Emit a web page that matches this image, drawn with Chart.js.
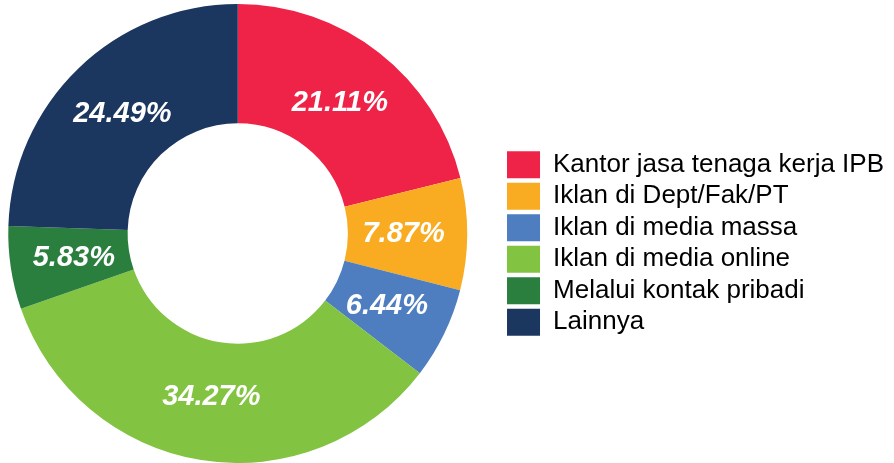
<!DOCTYPE html>
<html>
<head>
<meta charset="utf-8">
<script src="https://cdn.jsdelivr.net/npm/chart.js@4"></script>
<style>
  html, body { margin: 0; padding: 0; background: #fff; overflow: hidden; }
  /* canvas is a bit wider than the window and pulled left so the ring sits where it should */
  #chart { display: block; margin-left: -27px; }
</style>
</head>
<body>
<canvas id="chart" width="921" height="463"></canvas>
<script>
// Data
const categories = ['Kantor jasa tenaga kerja IPB', 'Iklan di Dept/Fak/PT', 'Iklan di media massa', 'Iklan di media online', 'Melalui kontak pribadi', 'Lainnya'];
const values = [21.11, 7.87, 6.44, 34.27, 5.83, 24.49];
const colors = ['#EE2347', '#F9AC21', '#4E7DC0', '#82C341', '#2A7F3F', '#1B365F'];

// Percent labels inside each slice
const sliceLabels = {
    id: 'sliceLabels',
    afterDatasetsDraw(chart) {
        const ctx = chart.ctx;
        const meta = chart.getDatasetMeta(0);
        ctx.save();
        ctx.font = 'italic bold 29px "Liberation Sans", Arial, sans-serif';
        ctx.fillStyle = '#ffffff';
        ctx.textAlign = 'center';
        ctx.textBaseline = 'middle';
        meta.data.forEach((arc, i) => {
            // a little inside the middle of the ring
            const mid = (arc.startAngle + arc.endAngle) / 2;
            const r = (arc.innerRadius + arc.outerRadius) / 2 - 4;
            const x = arc.x + Math.cos(mid) * r;
            const y = arc.y + Math.sin(mid) * r;
            ctx.fillText(values[i].toFixed(2) + '%', x, y);
        });
        ctx.restore();
    }
};

const ctx = document.getElementById('chart').getContext('2d');
new Chart(ctx, {
    type: 'doughnut',
    data: {
        labels: categories,
        datasets: [{
            data: values,
            backgroundColor: colors,
            borderWidth: 0
        }]
    },
    options: {
        responsive: false,
        animation: false,
        cutout: '48%',
        layout: {
            padding: { left: 0, top: 4, right: 0, bottom: 0 }
        },
        plugins: {
            tooltip: { enabled: false },
            legend: {
                position: 'right',
                title: {
                    display: true,
                    text: '',
                    font: { size: 10, lineHeight: 1 },
                    padding: 5
                },
                labels: {
                    boxWidth: 33,
                    boxHeight: 27,
                    padding: 4.5,
                    color: '#000000',
                    font: { size: 26, family: '"Liberation Sans", Arial, sans-serif' }
                }
            }
        }
    },
    plugins: [sliceLabels]
});
</script>
</body>
</html>
